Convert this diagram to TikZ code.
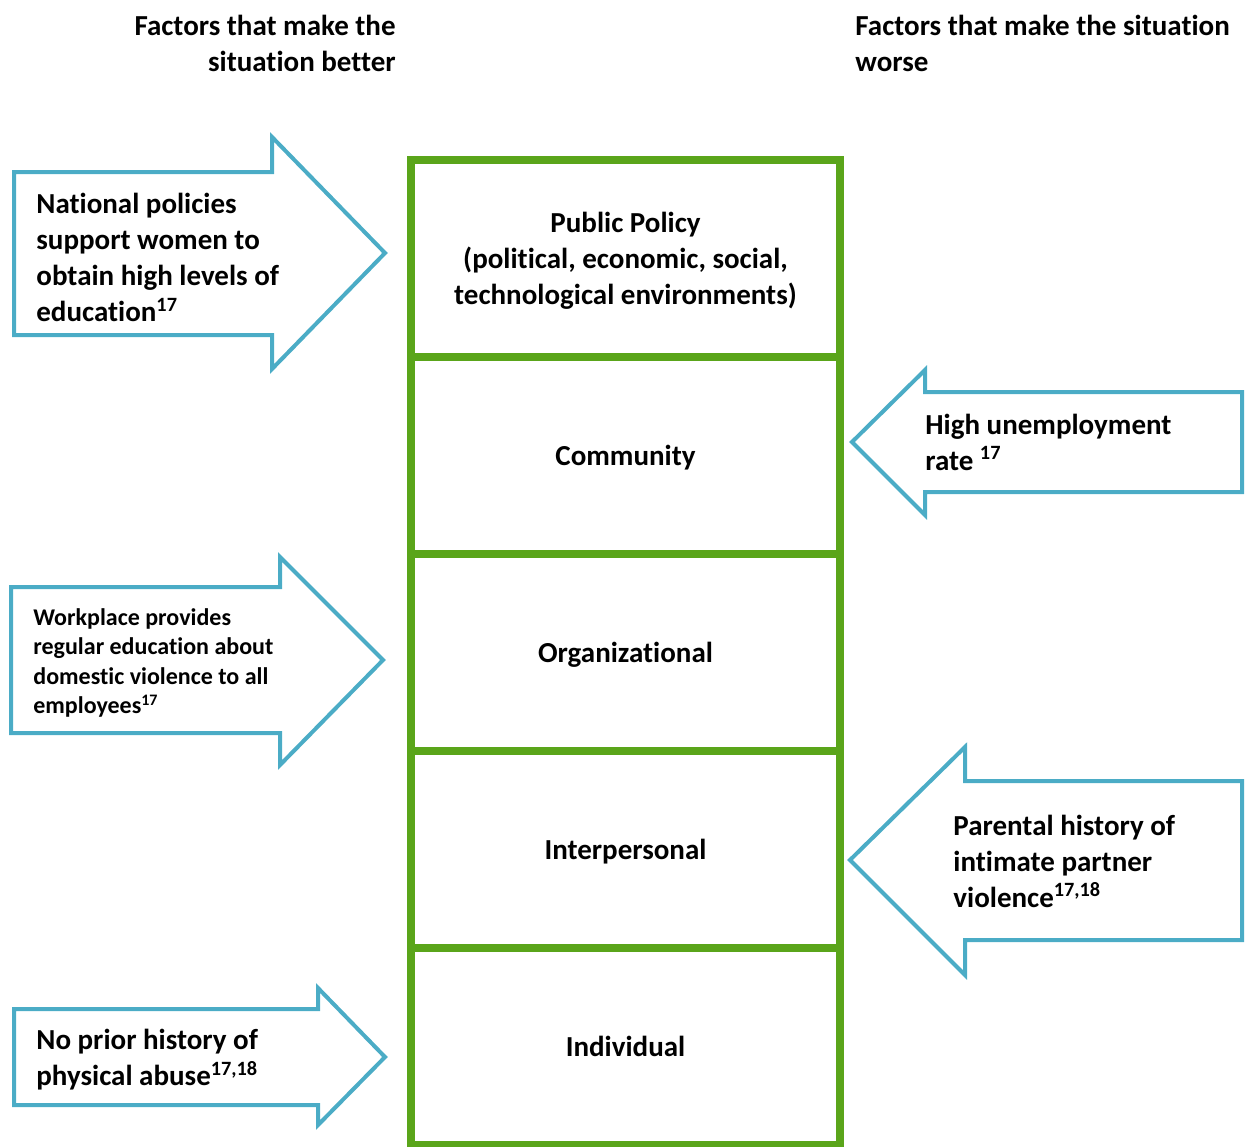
\documentclass[tikz,border=0pt]{standalone}
\usepackage{fontspec}
\setmainfont{Carlito}[Ligatures=CommonOff]
\usetikzlibrary{positioning}

\definecolor{levelgreen}{RGB}{90,165,26}
\definecolor{arrowblue}{RGB}{75,172,198}

\newcommand{\bigtxt}{\bfseries\fontsize{14.5}{18}\selectfont}
\newcommand{\smalltxt}{\bfseries\fontsize{12}{14.75}\selectfont}
\newcommand{\refs}[1]{\textsuperscript{#1}}

\tikzset{
  layerbox/.style={draw=levelgreen, line width=4pt, outer sep=0pt, text depth=0pt,
    minimum width=214.5pt, minimum height=98.5pt, align=center, font=\bigtxt},
  factor/.style={draw=arrowblue, line width=2pt, line join=miter},
  factortext/.style={inner sep=0pt, align=left, font=\bigtxt},
}

\begin{document}
\begin{tikzpicture}[x=0.5pt, y=-0.5pt]
  \useasboundingbox (0,0) rectangle (1245,1146);

  % Column headings
  \node[factortext, align=right, anchor=east] (betterhead) at (396,43)
    {Factors that make the\\situation better};
  \node[factortext, anchor=west] (worsehead) at (855,43)
    {Factors that make the situation\\worse};

  % The levels of the model
  \node[layerbox] (policy) at (625.5,258.5)
    {Public Policy\\(political, economic, social,\\technological environments)};
  \node[layerbox, below=0pt of policy] (community) {Community};
  \node[layerbox, below=0pt of community] (organization) {Organizational};
  \node[layerbox, below=0pt of organization] (interpersonal) {Interpersonal};
  \node[layerbox, below=0pt of interpersonal] (individual) {Individual};

  % Factors that make it better
  \draw[factor] (14,172) -- (272,172) -- (272,137) -- (385,253)
    -- (272,369) -- (272,335) -- (14,335) -- cycle;
  \node[factortext, anchor=west] (policies) at (36,257.5)
    {National policies\\support women to\\obtain high levels of\\education\refs{17}};

  \draw[factor] (11,587) -- (280,587) -- (280,557) -- (383,660)
    -- (280,765) -- (280,733) -- (11,733) -- cycle;
  \node[factortext, font=\smalltxt, anchor=west] (workplace) at (33,663)
    {Workplace provides\\regular education about\\domestic violence to all\\employees\refs{17}};

  \draw[factor] (14,1009) -- (318,1009) -- (318,988) -- (385,1057)
    -- (318,1125) -- (318,1105) -- (14,1105) -- cycle;
  \node[factortext, anchor=west] (noabuse) at (36,1060)
    {No prior history of\\physical abuse\refs{17,18}};

  % Factors that make it worse
  \draw[factor] (1242,392) -- (925,392) -- (925,370) -- (852,442)
    -- (925,515) -- (925,492) -- (1242,492) -- cycle;
  \node[factortext, anchor=west] (unemployment) at (925,442)
    {High unemployment\\rate \refs{17}};

  \draw[factor] (1242,781) -- (965,781) -- (965,747) -- (850,860)
    -- (965,975) -- (965,940) -- (1242,940) -- cycle;
  \node[factortext, anchor=west] (parental) at (953,861)
    {Parental history of\\intimate partner\\violence\refs{17,18}};

\end{tikzpicture}
\end{document}
